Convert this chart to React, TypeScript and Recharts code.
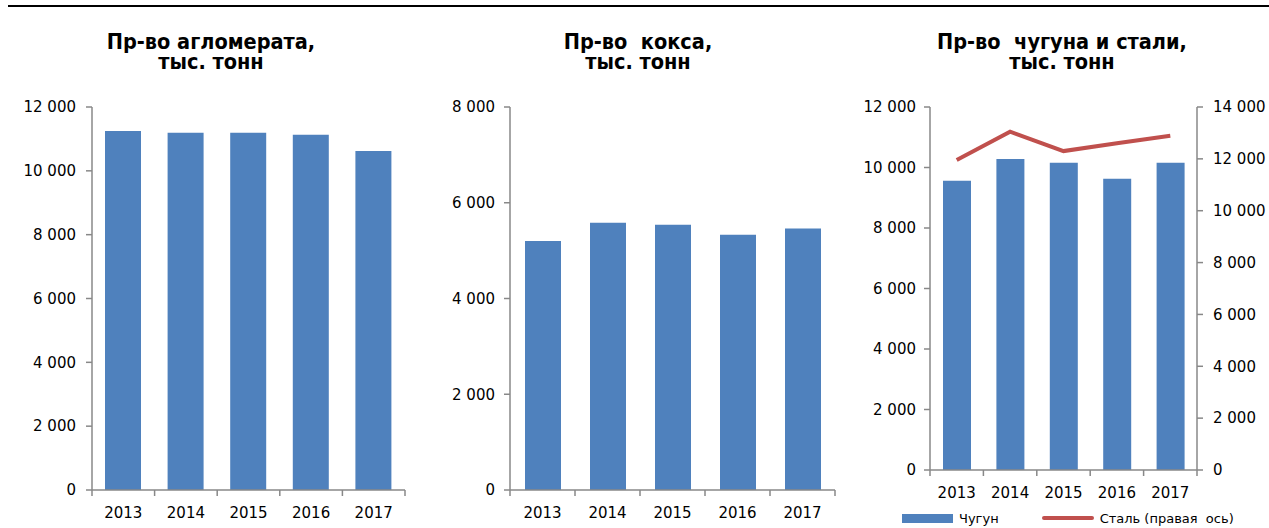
import React from "react";
import { Bar, BarChart, ComposedChart, Line, XAxis, YAxis } from "recharts";

// values, thousand tonnes
const YEARS = ["2013", "2014", "2015", "2016", "2017"];
const SINTER = [11250, 11190, 11190, 11130, 10620];
const COKE = [5200, 5580, 5540, 5330, 5460];
const PIG_IRON = [9560, 10280, 10160, 9630, 10160];
const STEEL = [11960, 13050, 12300, 12600, 12890];

const TICKS_12K = [0, 2000, 4000, 6000, 8000, 10000, 12000];
const TICKS_8K = [0, 2000, 4000, 6000, 8000];
const TICKS_14K = [0, 2000, 4000, 6000, 8000, 10000, 12000, 14000];

const BLUE = "#4F81BD";
const RED = "#C0504D";
const AXIS = "#888888";
const FONT = "'DejaVu Sans', Verdana, sans-serif";
const TITLE_FONT = "'DejaVu Sans Condensed', 'DejaVu Sans', sans-serif";

const fmt = (v: number) => String(v).replace(/\B(?=(\d{3})+(?!\d))/g, " ");

const sinterData = YEARS.map((year, i) => ({ year, value: SINTER[i] }));
const cokeData = YEARS.map((year, i) => ({ year, value: COKE[i] }));
const ironData = YEARS.map((year, i) => ({
  year,
  iron: PIG_IRON[i],
  steel: STEEL[i],
}));

// Excel-style category axis: tick marks sit between the categories
function YearTick(props: any) {
  const { x, y, payload, index, band, count } = props;
  const half = band / 2;
  return (
    <g>
      <line x1={x - half} x2={x - half} y1={y} y2={y + 6} stroke={AXIS} strokeWidth={1.5} />
      {index === count - 1 && (
        <line x1={x + half} x2={x + half} y1={y} y2={y + 6} stroke={AXIS} strokeWidth={1.5} />
      )}
      <text x={x} y={y + 28} textAnchor="middle" fontSize={15} fontFamily={FONT} fill="#000">
        {payload.value}
      </text>
    </g>
  );
}

const yTick = { fontSize: 15, fontFamily: FONT, fill: "#000" };
const axisLine = { stroke: AXIS, strokeWidth: 1.5 };

function Title({ left, children }: { left: number; children: React.ReactNode }) {
  return (
    <div
      style={{
        position: "absolute",
        left: left - 200,
        width: 400,
        top: 32,
        textAlign: "center",
        fontFamily: TITLE_FONT,
        fontWeight: "bold",
        fontSize: 21.5,
        lineHeight: "20px",
        whiteSpace: "pre",
        color: "#000",
      }}
    >
      {children}
    </div>
  );
}

export default function App() {
  return (
    <div
      style={{
        position: "absolute",
        left: 0,
        top: 0,
        width: 1269,
        height: 528,
        background: "#fff",
        overflow: "hidden",
      }}
    >
      <div style={{ position: "absolute", left: 8, top: 5, width: 1261, height: 2, background: "#000" }} />

      <Title left={211}>{"Пр-во агломерата,\nтыс. тонн"}</Title>
      <Title left={638}>{"Пр-во  кокса,\nтыс. тонн"}</Title>
      <Title left={1062}>{"Пр-во  чугуна и стали,\nтыс. тонн"}</Title>

      <div style={{ position: "absolute", left: 0, top: 0 }}>
        <BarChart width={430} height={528} data={sinterData} margin={{ top: 107, right: 25, bottom: 0, left: 0 }}>
          <XAxis
            dataKey="year"
            height={38}
            axisLine={axisLine}
            tickLine={false}
            tickSize={0}
            tickMargin={0}
            interval={0}
            tick={(p: any) => <YearTick {...p} band={313 / YEARS.length} count={YEARS.length} />}
          />
          <YAxis
            width={92}
            domain={[0, 12000]}
            ticks={TICKS_12K}
            interval={0}
            tickFormatter={fmt}
            axisLine={axisLine}
            tickLine={axisLine}
            tickSize={6}
            tickMargin={10}
            tick={yTick}
          />
          <Bar dataKey="value" fill={BLUE} barSize={36} isAnimationActive={false} />
        </BarChart>
      </div>

      <div style={{ position: "absolute", left: 430, top: 0 }}>
        <BarChart width={420} height={528} data={cokeData} margin={{ top: 107, right: 15, bottom: 0, left: 0 }}>
          <XAxis
            dataKey="year"
            height={38}
            axisLine={axisLine}
            tickLine={false}
            tickSize={0}
            tickMargin={0}
            interval={0}
            tick={(p: any) => <YearTick {...p} band={325 / YEARS.length} count={YEARS.length} />}
          />
          <YAxis
            width={80}
            domain={[0, 8000]}
            ticks={TICKS_8K}
            interval={0}
            tickFormatter={fmt}
            axisLine={axisLine}
            tickLine={axisLine}
            tickSize={6}
            tickMargin={9}
            tick={yTick}
          />
          <Bar dataKey="value" fill={BLUE} barSize={36} isAnimationActive={false} />
        </BarChart>
      </div>

      <div style={{ position: "absolute", left: 850, top: 0 }}>
        <ComposedChart width={419} height={528} data={ironData} margin={{ top: 107, right: 0, bottom: 0, left: 0 }}>
          <XAxis
            dataKey="year"
            height={58}
            axisLine={axisLine}
            tickLine={false}
            tickSize={0}
            tickMargin={0}
            interval={0}
            tick={(p: any) => <YearTick {...p} band={267 / YEARS.length} count={YEARS.length} />}
          />
          <YAxis
            yAxisId="left"
            width={80}
            domain={[0, 12000]}
            ticks={TICKS_12K}
            interval={0}
            tickFormatter={fmt}
            axisLine={axisLine}
            tickLine={axisLine}
            tickSize={6}
            tickMargin={8}
            tick={yTick}
          />
          <YAxis
            yAxisId="right"
            orientation="right"
            width={72}
            domain={[0, 14000]}
            ticks={TICKS_14K}
            interval={0}
            tickFormatter={fmt}
            axisLine={axisLine}
            tickLine={axisLine}
            tickSize={6}
            tickMargin={10}
            tick={{ ...yTick, textAnchor: "start" }}
          />
          <Bar yAxisId="left" dataKey="iron" name="Чугун" fill={BLUE} barSize={28} isAnimationActive={false} />
          <Line
            yAxisId="right"
            dataKey="steel"
            name="Сталь (правая  ось)"
            stroke={RED}
            strokeWidth={4}
            dot={false}
            type="linear"
            isAnimationActive={false}
          />
        </ComposedChart>
      </div>

      {/* legend under the third chart */}
      <div
        style={{
          position: "absolute",
          left: 902,
          top: 509,
          height: 18,
          display: "flex",
          alignItems: "center",
          fontFamily: FONT,
          fontSize: 13,
          color: "#000",
          whiteSpace: "pre",
        }}
      >
        <span style={{ display: "inline-block", width: 51, height: 9, background: BLUE }} />
        <span style={{ marginLeft: 6 }}>Чугун</span>
        <span style={{ display: "inline-block", width: 52, height: 4, background: RED, marginLeft: 43, borderRadius: 2 }} />
        <span style={{ marginLeft: 6 }}>Сталь (правая  ось)</span>
      </div>
    </div>
  );
}
